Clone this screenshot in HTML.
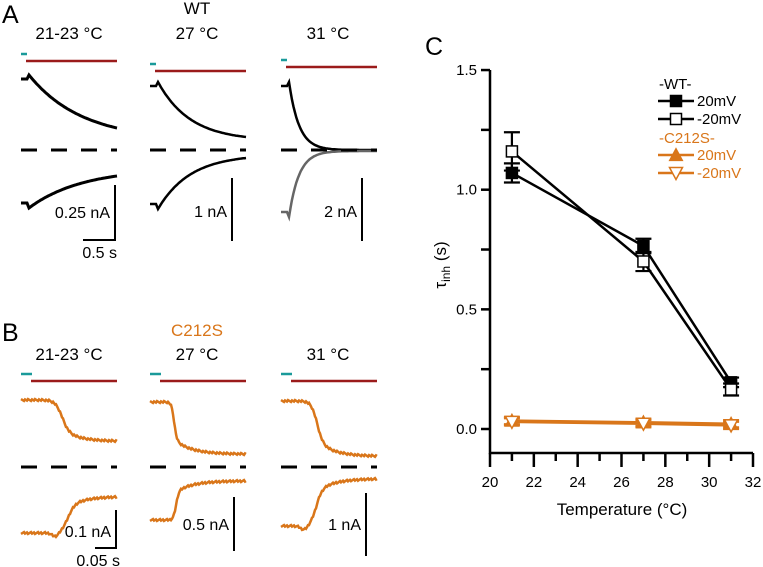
<!DOCTYPE html>
<html><head><meta charset="utf-8"><style>
body{margin:0;background:#fff}
svg{display:block;font-family:"Liberation Sans",Arial,sans-serif}
</style></head><body>
<svg id="fig" width="763" height="567" viewBox="0 0 763 567" xmlns="http://www.w3.org/2000/svg">
<g id="panelA">
<text x="2" y="23" font-size="25">A</text>
<text x="197" y="14" font-size="17" text-anchor="middle">WT</text>
<text x="69" y="39" font-size="17" text-anchor="middle">21-23 °C</text>
<text x="197" y="39" font-size="17" text-anchor="middle">27 °C</text>
<text x="328" y="39" font-size="17" text-anchor="middle">31 °C</text>
</g>
<g id="panelB">
<text x="2" y="341" font-size="25">B</text>
<text x="197" y="336" font-size="17" text-anchor="middle" fill="#d9761a">C212S</text>
<text x="69" y="360" font-size="17" text-anchor="middle">21-23 °C</text>
<text x="197" y="360" font-size="17" text-anchor="middle">27 °C</text>
<text x="328" y="360" font-size="17" text-anchor="middle">31 °C</text>
</g>
<g id="panelC">
<text x="425" y="55" font-size="25">C</text>
</g>
</svg>
<script>
// ---- Panel C data ----
const temps = [21, 27, 31];
const wt20 = [1.07, 0.765, 0.195];
const wt20err = [0.04, 0.03, 0.02];
const wtm20 = [1.16, 0.70, 0.165];
const wtm20err = [0.08, 0.04, 0.025];
const c20 = [0.035, 0.028, 0.022];
const c20err = [0.015, 0.015, 0.015];
const cm20 = [0.030, 0.022, 0.015];
const cm20err = [0.015, 0.015, 0.015];
const xTicks = [20, 22, 24, 26, 28, 30, 32];
const yTicks = [0.0, 0.5, 1.0, 1.5];
const yTickLabels = ["0.0", "0.5", "1.0", "1.5"];
// ---- Panels A/B trace parameters (kinetics) ----
const aTau = [0.9, 0.55, 0.17];
const aTopStart = [79, 86, 86];
const aTopEnd = [128, 137, 150];
const aBotStart = [206, 207, 215];
const aBotEnd = [176, 158, 151];
const bMidTop = [0.42, 0.25, 0.37];
const bMidBot = [0.48, 0.27, 0.36];
const bSlope = [0.035, 0.014, 0.03];
const bTopStart = [400, 402, 401];
const bTopEnd = [441, 454, 456];
const bBotStart = [533, 520, 526];
const bBotEnd = [497, 481, 479];

const NS = "http://www.w3.org/2000/svg";
const svg = document.getElementById('fig');
function mk(tag, attrs, parent) {
  const e = document.createElementNS(NS, tag);
  for (const k in attrs) e.setAttribute(k, attrs[k]);
  (parent || svg).appendChild(e);
  return e;
}
const pA = document.getElementById('panelA');
const pB = document.getElementById('panelB');
const pC = document.getElementById('panelC');
const colX = [21, 150, 281];
const W = 96;

// Panel A
for (let i = 0; i < 3; i++) {
  const x0 = colX[i];
  const cyY = [54, 64, 60][i], rdY = [61, 71, 67][i];
  let l = mk('line', {x1: x0, x2: x0 + 6, y1: cyY, y2: cyY, stroke: '#1a9a9a', 'stroke-width': 2.5}, pA);
  
  
  l = mk('line', {x1: x0 + 5, x2: x0 + W, y1: rdY, y2: rdY, stroke: '#9b1b1b', 'stroke-width': 2.5}, pA);
  
  
  let d = `M${x0},${aTopStart[i]} L${x0 + 6},${aTopStart[i]} L${x0 + 8},${aTopStart[i] - 4}`;
  let d2 = `M${x0},${aBotStart[i] - 3} L${x0 + 6},${aBotStart[i] - 3} L${x0 + 8},${aBotStart[i] + 2}`;
  const span = W - 8, dur = 1.5;
  for (let k = 0; k <= 60; k++) {
    const t = k / 60 * dur;
    const f = Math.exp(-t / aTau[i]);
    const f1 = Math.exp(-dur / aTau[i]);
    const g = (f - f1) / (1 - f1);
    const x = x0 + 8 + k / 60 * span;
    d += ` L${x.toFixed(1)},${(aTopEnd[i] + (aTopStart[i] - 4 - aTopEnd[i]) * g).toFixed(1)}`;
    d2 += ` L${x.toFixed(1)},${(aBotEnd[i] + (aBotStart[i] + 2 - aBotEnd[i]) * g).toFixed(1)}`;
  }
  let p = mk('path', {d: d, fill: 'none', stroke: '#000', 'stroke-width': i == 0 ? 3 : 2.5}, pA);
  
  
  p = mk('path', {d: d2, fill: 'none', stroke: i == 2 ? '#666' : '#000', 'stroke-width': i == 0 ? 3 : 2.5}, pA);
  
  
  l = mk('line', {x1: x0, x2: x0 + W, y1: 150, y2: 150, stroke: '#000', 'stroke-width': 3, 'stroke-dasharray': '16 14'}, pA);
  
  
}
function scaleBar(parent, x, y1, y2, label, ly, name) {
  const l = mk('line', {x1: x, x2: x, y1: y1, y2: y2, stroke: '#000', 'stroke-width': 2}, parent);
  
  
  const t = mk('text', {x: x - 5, y: ly, 'font-size': 16, 'text-anchor': 'end'}, parent);
  t.textContent = label;
  
  
}
scaleBar(pA, 115, 185, 241, '0.25 nA', 218, 'scale-025na');
scaleBar(pA, 232, 178, 241, '1 nA', 217, 'scale-1na');
scaleBar(pA, 362, 178, 241, '2 nA', 217, 'scale-2na');
let hb = mk('line', {x1: 83, x2: 116, y1: 240, y2: 240, stroke: '#000', 'stroke-width': 2}, pA);


let ht = mk('text', {x: 117, y: 258, 'font-size': 16, 'text-anchor': 'end'}, pA);
ht.textContent = '0.5 s';



// Panel B
function bshape(u, mid, sl) {
  const s = 1 / (1 + Math.exp(-(u - mid) / sl));
  const tail = u > mid ? 1 - Math.exp(-(u - mid) / 0.18) : 0;
  return s * (0.72 + 0.28 * tail);
}
for (let i = 0; i < 3; i++) {
  const x0 = colX[i];
  let l = mk('line', {x1: x0, x2: x0 + 11, y1: 374, y2: 374, stroke: '#1a9a9a', 'stroke-width': 2.5}, pB);
  
  
  l = mk('line', {x1: x0 + 10, x2: x0 + W, y1: 381, y2: 381, stroke: '#9b1b1b', 'stroke-width': 2.5}, pB);
  
  
  let d = '', d2 = '';
  const norm1 = bshape(1, bMidTop[i], bSlope[i]), norm2 = bshape(1, bMidBot[i], bSlope[i]);
  for (let k = 0; k <= 96; k++) {
    const u = k / 96;
    const s1 = bshape(u, bMidTop[i], bSlope[i]) / norm1;
    const s2 = bshape(u, bMidBot[i], bSlope[i]) / norm2;
    const x = x0 + u * W;
    const dip = i != 1 ? 4 * Math.exp(-Math.pow((u - bMidBot[i] + 0.12) / 0.05, 2)) : 0;
    const nz = ((k * 37) % 7 - 3) * 0.3;
    d += (k ? ' L' : 'M') + x.toFixed(1) + ',' + (bTopStart[i] + (bTopEnd[i] - bTopStart[i]) * s1 + nz).toFixed(1);
    d2 += (k ? ' L' : 'M') + x.toFixed(1) + ',' + (bBotStart[i] + (bBotEnd[i] - bBotStart[i]) * s2 + dip - nz).toFixed(1);
  }
  let p = mk('path', {d: d, fill: 'none', stroke: '#d9761a', 'stroke-width': 2.5}, pB);
  
  
  p = mk('path', {d: d2, fill: 'none', stroke: '#d9761a', 'stroke-width': 2.5}, pB);
  
  
  l = mk('line', {x1: x0, x2: x0 + W, y1: 467, y2: 467, stroke: '#000', 'stroke-width': 3, 'stroke-dasharray': '16 14'}, pB);
  
  
}
scaleBar(pB, 116, 510, 549, '0.1 nA', 537, 'scale-01na');
scaleBar(pB, 234, 497, 551, '0.5 nA', 530, 'scale-05na');
scaleBar(pB, 366, 493, 556, '1 nA', 530, 'scale-1na-b');
hb = mk('line', {x1: 95, x2: 117, y1: 548, y2: 548, stroke: '#000', 'stroke-width': 2}, pB);


ht = mk('text', {x: 120, y: 566, 'font-size': 16, 'text-anchor': 'end'}, pB);
ht.textContent = '0.05 s';



// Panel C
const X = v => 490 + (v - 20) * (263 / 12);
const Y = v => 429 - v * 239.3;
let ax = mk('path', {d: `M490,${Y(1.5)} L490,453 L${X(32)},453`, fill: 'none', stroke: '#000', 'stroke-width': 2.5}, pC);


for (let v = 0; v <= 1.5001; v += 0.25) {
  const t = mk('line', {x1: 481, x2: 490, y1: Y(v), y2: Y(v), stroke: '#000', 'stroke-width': 2.5}, pC);
  
  
}
yTicks.forEach((v, i) => {
  const t = mk('text', {x: 477, y: Y(v) + 5, 'font-size': 15, 'text-anchor': 'end'}, pC);
  t.textContent = yTickLabels[i];
  
  
});
for (let v = 20; v <= 32; v++) {
  const t = mk('line', {x1: X(v), x2: X(v), y1: 453, y2: v % 2 ? 461 : 467, stroke: '#000', 'stroke-width': 2.5}, pC);
  
  
}
xTicks.forEach(v => {
  const t = mk('text', {x: X(v), y: 487, 'font-size': 15, 'text-anchor': 'middle'}, pC);
  t.textContent = v;
  
  
});
let xt = mk('text', {x: 622, y: 515, 'font-size': 17, 'text-anchor': 'middle'}, pC);
xt.textContent = 'Temperature (°C)';


let yt = mk('text', {x: 0, y: 0, 'font-size': 17, 'text-anchor': 'middle', transform: 'translate(446,265) rotate(-90)'}, pC);
yt.innerHTML = 'τ<tspan font-size="12" dy="4">inh</tspan><tspan dy="-4"> (s)</tspan>';



function marker(parent, type, x, y, col, sz) {
  let e;
  if (type === 'sqf' || type === 'sqo') e = mk('rect', {x: x - sz / 2, y: y - sz / 2, width: sz, height: sz, fill: type === 'sqf' ? col : '#fff', stroke: col, 'stroke-width': 1.5}, parent);
  else if (type === 'tri') e = mk('path', {d: `M${x},${y - sz / 2 - 1} L${x + sz / 2 + 1},${y + sz / 2} L${x - sz / 2 - 1},${y + sz / 2} Z`, fill: col, stroke: col, 'stroke-width': 1.2}, parent);
  else e = mk('path', {d: `M${x},${y + sz / 2 + 1} L${x + sz / 2 + 1},${y - sz / 2} L${x - sz / 2 - 1},${y - sz / 2} Z`, fill: '#fff', stroke: col, 'stroke-width': 1.5}, parent);
  return e;
}
function series(vals, errs, type, col, name) {
  const g = mk('g', {}, pC);
  
  
  const ln = mk('polyline', {points: temps.map((t, i) => X(t) + ',' + Y(vals[i])).join(' '), fill: 'none', stroke: col, 'stroke-width': 2.5}, g);
  
  
  temps.forEach((t, i) => {
    const x = X(t), y1 = Y(vals[i] + errs[i]), y2 = Y(vals[i] - errs[i]);
    const eb = mk('path', {d: `M${x},${y1} L${x},${y2} M${x - 8},${y1} L${x + 8},${y1} M${x - 8},${y2} L${x + 8},${y2}`, stroke: col, 'stroke-width': 2.2, fill: 'none'}, g);
    
    
    const m = marker(g, type, x, Y(vals[i]), col, 11);
    
    
  });
}
const OR = '#d9761a';
series(wt20, wt20err, 'sqf', '#000', 'wt-20mv');
series(wtm20, wtm20err, 'sqo', '#000', 'wt-minus20mv');
series(c20, c20err, 'tri', OR, 'c212s-20mv');
series(cm20, cm20err, 'tri-o', OR, 'c212s-minus20mv');

// Legend
const lg = mk('g', {}, pC);


function ltext(txt, x, y, col, name) {
  const t = mk('text', {x: x, y: y, 'font-size': 15, fill: col}, lg);
  t.textContent = txt;
  
  
}
ltext('-WT-', 659, 89, '#000', 'legend-wt-header');
ltext('-C212S-', 659, 143, OR, 'legend-c212s-header');
[[101, 'sqf', '#000', '20mV', 'legend-wt-20mv'], [119, 'sqo', '#000', '-20mV', 'legend-wt-minus20mv'], [155, 'tri', OR, '20mV', 'legend-c212s-20mv'], [173, 'tri-o', OR, '-20mV', 'legend-c212s-minus20mv']].forEach(r => {
  const g = mk('g', {}, lg);
  
  
  mk('line', {x1: 658, x2: 694, y1: r[0], y2: r[0], stroke: r[2], 'stroke-width': 2.5}, g);
  marker(g, r[1], 676, r[0], r[2], 11);
  const t = mk('text', {x: 697, y: r[0] + 5, 'font-size': 15, fill: r[2]}, g);
  t.textContent = r[3];
});
</script>
</body></html>
